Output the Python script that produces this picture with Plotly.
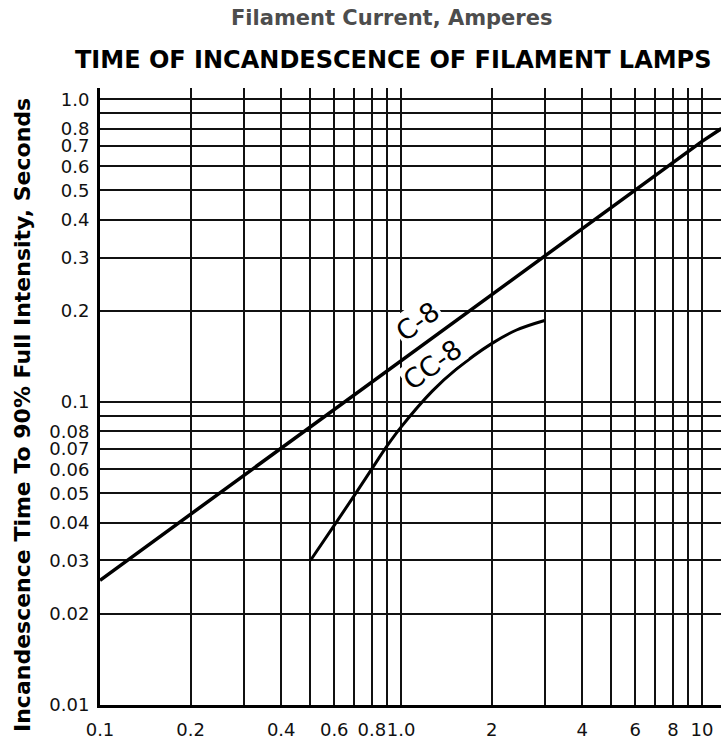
import plotly.graph_objects as go

# ---- data ----
c8_current = [0.1, 1.0, 10.0, 11.6]
c8_time = [0.0258, 0.137, 0.726, 0.80]

cc8_current = [0.5, 0.6, 0.7, 0.8, 0.9, 1.0, 1.27, 1.52, 2.0, 2.42, 3.0]
cc8_time = [0.0300, 0.0392, 0.0492, 0.0602, 0.0718, 0.0827, 0.1087, 0.128, 0.156, 0.173, 0.186]

x_gridvals = [0.1, 0.2, 0.3, 0.4, 0.5, 0.6, 0.7, 0.8, 0.9, 1.0,
              2, 3, 4, 5, 6, 7, 8, 9, 10]
x_gridtext = ["0.1", "0.2", "", "0.4", "", "0.6", "", "0.8", "", "1.0",
              "2", "", "4", "", "6", "", "8", "", "10"]

y_gridvals = [0.01, 0.02, 0.03, 0.04, 0.05, 0.06, 0.07, 0.08, 0.09, 0.1,
              0.2, 0.3, 0.4, 0.5, 0.6, 0.7, 0.8, 0.9, 1.0]
y_gridtext = ["0.01", "0.02", "0.03", "0.04", "0.05", "0.06", "0.07", "0.08", "", "0.1",
              "0.2", "0.3", "0.4", "0.5", "0.6", "0.7", "0.8", "", "1.0"]

title_text = "TIME OF INCANDESCENCE OF FILAMENT LAMPS"
top_axis_title = "Filament Current, Amperes"
y_axis_title = "Incandescence Time To 90% Full Intensity, Seconds"
curve_labels = ["C-8", "CC-8"]

FONT = "DejaVu Sans, Liberation Sans, Arial, sans-serif"

fig = go.Figure()
fig.add_trace(go.Scatter(x=c8_current, y=c8_time, mode="lines",
                         line=dict(color="black", width=3.5), showlegend=False))
fig.add_trace(go.Scatter(x=cc8_current, y=cc8_time, mode="lines",
                         line=dict(color="black", width=3, shape="spline", smoothing=1),
                         showlegend=False))

axis_common = dict(type="log", showgrid=True, gridcolor="#111111", gridwidth=1.6,
                   showline=True, linecolor="black", linewidth=3,
                   ticks="", zeroline=False, automargin=False, tickangle=0,
                   tickfont=dict(size=18, color="#111111", family=FONT))

fig.update_layout(
    width=721, height=740,
    margin=dict(l=100, r=0, t=88, b=35),
    paper_bgcolor="white", plot_bgcolor="white",
    font=dict(family=FONT, color="black"),
    xaxis=dict(range=[-1, 1.063], tickvals=x_gridvals, ticktext=x_gridtext,
               ticklabelstandoff=6, **axis_common),
    yaxis=dict(range=[-2, 0.037], tickvals=y_gridvals, ticktext=y_gridtext,
               ticklabelstandoff=4, **axis_common),
)

annotations = [
    dict(text=f"<b>{top_axis_title}</b>", xref="paper", yref="paper",
         x=0.470, y=1.1135, xanchor="center", yanchor="middle", showarrow=False,
         font=dict(size=21, color="#4d4d4d")),
    dict(text=f"<b>{title_text}</b>", xref="paper", yref="paper",
         x=0.472, y=1.0454, xanchor="center", yanchor="middle", showarrow=False,
         font=dict(size=24, color="black")),
    dict(text=f"<b>{y_axis_title}</b>", xref="paper", yref="paper",
         x=-0.1256, y=0.470, xanchor="center", yanchor="middle", showarrow=False,
         textangle=-90, font=dict(size=22, color="black")),
    dict(text=curve_labels[0], x=0.055, y=-0.735, xref="x", yref="y",
         showarrow=False, xanchor="center", yanchor="middle",
         textangle=-36, font=dict(size=27, color="black"), bgcolor="white",
         borderpad=1),
    dict(text=curve_labels[1], x=0.105, y=-0.875, xref="x", yref="y",
         showarrow=False, xanchor="center", yanchor="middle",
         textangle=-36, font=dict(size=27, color="black"), bgcolor="white",
         borderpad=0),
]
fig.update_layout(annotations=annotations)

fig.write_html("out.html", config={"displayModeBar": False},
               post_script="document.body.style.margin='0';")
